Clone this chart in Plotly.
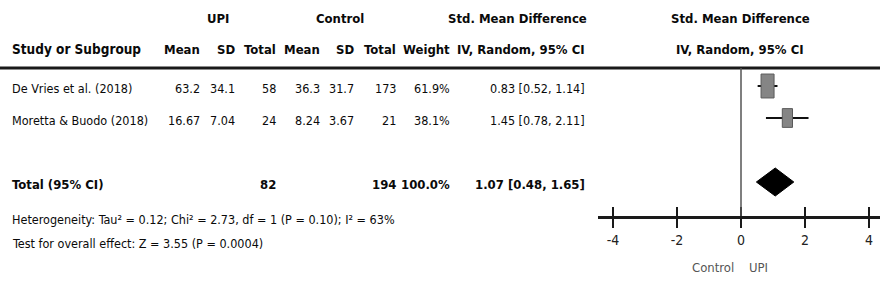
import plotly.graph_objects as go
import math

# ---------------- data ----------------
studies = ["De Vries et al. (2018)", "Moretta & Buodo (2018)"]
upi_mean = ["63.2", "16.67"]
upi_sd = ["34.1", "7.04"]
upi_n = [58, 24]
ctl_mean = ["36.3", "8.24"]
ctl_sd = ["31.7", "3.67"]
ctl_n = [173, 21]
weights = [61.9, 38.1]
smd = [0.83, 1.45]
ci_lo = [0.52, 0.78]
ci_hi = [1.14, 2.11]

total_label = "Total (95% CI)"
total_upi_n = 82
total_ctl_n = 194
total_weight = 100.0
total_smd = 1.07
total_lo = 0.48
total_hi = 1.65

het_text = "Heterogeneity: Tau² = 0.12; Chi² = 2.73, df = 1 (P = 0.10); I² = 63%"
test_text = "Test for overall effect: Z = 3.55 (P = 0.0004)"

tick_vals = [-4, -2, 0, 2, 4]
tick_text = ["-4", "-2", "0", "2", "4"]
favours_left = "Control"
favours_right = "UPI"

# ---------------- layout constants (pixels) ----------------
W, H = 880, 298
FONT = "DejaVu Sans Condensed, Liberation Sans Narrow, Arial Narrow, sans-serif"
FS = 12.5
FSB = 13
TXT = "#0a0a0a"
row_y = [88, 120]
box_y = [86, 118]
total_y = 184
het_y = 219
test_y = 243
hdr1_y = 18
hdr2_y = 49
rule_y = 68
axis_px = 216
zero_px = 741.0
px_per_unit = 32.0
plot_left_px = 598
col_right = [202, 237, 278, 322, 356, 398, 452, 587]

x_lo = (plot_left_px - zero_px) / px_per_unit
x_hi = (W - zero_px) / px_per_unit

fig = go.Figure()

# study CI lines and weight boxes
for i in range(len(studies)):
    yc = box_y[i]
    fig.add_trace(go.Scatter(x=[ci_lo[i], ci_hi[i]], y=[yc, yc], mode="lines",
                             line=dict(color="#111111", width=2),
                             xaxis="x", yaxis="y", showlegend=False, hoverinfo="skip"))
    side = 13.0 * math.sqrt(weights[i] / weights[0])
    hw = side / 2 / px_per_unit
    hh = side * 0.92
    fig.add_trace(go.Scatter(
        x=[smd[i] - hw, smd[i] + hw, smd[i] + hw, smd[i] - hw, smd[i] - hw],
        y=[yc - hh, yc - hh, yc + hh, yc + hh, yc - hh],
        mode="lines", fill="toself", fillcolor="#858585",
        line=dict(color="#5a5a5a", width=1),
        xaxis="x", yaxis="y", showlegend=False, hoverinfo="skip"))

# total diamond
dh = 14
fig.add_trace(go.Scatter(
    x=[total_lo, total_smd, total_hi, total_smd, total_lo],
    y=[total_y - 2, total_y - 2 - dh, total_y - 2, total_y - 2 + dh, total_y - 2],
    mode="lines", fill="toself", fillcolor="#000000",
    line=dict(color="#000000", width=1),
    xaxis="x", yaxis="y", showlegend=False, hoverinfo="skip"))

# invisible traces to register the helper axes
fig.add_trace(go.Scatter(x=[0], y=[0], mode="markers", marker=dict(opacity=0),
                         xaxis="x2", yaxis="y2", showlegend=False, hoverinfo="skip"))
fig.add_trace(go.Scatter(x=[0], y=[axis_px], mode="markers", marker=dict(opacity=0),
                         xaxis="x3", yaxis="y", showlegend=False, hoverinfo="skip"))

ann = []


def txt(x, y, s, anchor="right", bold=False, color=TXT, size=None):
    if size is None:
        size = FSB if bold else FS
    ann.append(dict(x=x, y=y, xref="x2", yref="y2", text=("<b>%s</b>" % s) if bold else s,
                    showarrow=False, xanchor=anchor, yanchor="middle",
                    font=dict(family=FONT, size=size, color=color)))


# headers
txt(218, hdr1_y, "UPI", "center", True)
txt(340, hdr1_y, "Control", "center", True)
txt(517, hdr1_y, "Std. Mean Difference", "center", True)
txt(740, hdr1_y, "Std. Mean Difference", "center", True)
txt(10, hdr2_y, "Study or Subgroup", "left", True, size=13.5)
for xr, s in zip(col_right, ["Mean", "SD", "Total", "Mean", "SD", "Total", "Weight",
                             "IV, Random, 95% CI"]):
    txt(xr, hdr2_y, s, "right", True)
txt(740, hdr2_y, "IV, Random, 95% CI", "center", True)

# study rows
for i in range(len(studies)):
    y = row_y[i]
    txt(10, y, studies[i], "left")
    vals = [upi_mean[i], upi_sd[i], str(upi_n[i]), ctl_mean[i], ctl_sd[i], str(ctl_n[i]),
            "%.1f%%" % weights[i], "%.2f [%.2f, %.2f]" % (smd[i], ci_lo[i], ci_hi[i])]
    for xr, s in zip(col_right, vals):
        txt(xr, y, s, "right")

# total row
txt(10, total_y, total_label, "left", True)
txt(col_right[2], total_y, str(total_upi_n), "right", True)
txt(col_right[5], total_y, str(total_ctl_n), "right", True)
txt(col_right[6], total_y, "%.1f%%" % total_weight, "right", True)
txt(col_right[7], total_y, "%.2f [%.2f, %.2f]" % (total_smd, total_lo, total_hi), "right", True)

txt(10, het_y, het_text, "left")
txt(10, test_y, test_text, "left")

# favours labels
txt(736, 267, favours_left, "right", False, "#555555", 13)
txt(747, 267, favours_right, "left", False, "#555555", 13)

shapes = [
    dict(type="line", xref="x2", yref="y2", x0=0, x1=W, y0=rule_y, y1=rule_y,
         line=dict(color="#1a1a1a", width=3)),
    dict(type="line", xref="x", yref="y", x0=0, x1=0, y0=rule_y, y1=axis_px,
         line=dict(color="#555555", width=1.5)),
]

dom_x = [plot_left_px / W, 1]
dom_y = [(H - axis_px) / H, 1]

fig.update_layout(
    width=W, height=H, margin=dict(l=0, r=0, t=0, b=0),
    paper_bgcolor="white", plot_bgcolor="rgba(0,0,0,0)",
    showlegend=False, hovermode=False,
    annotations=ann, shapes=shapes,
    xaxis=dict(domain=dom_x, range=[x_lo, x_hi], anchor="y",
               showline=True, linecolor="#1a1a1a", linewidth=2.5,
               ticks="outside", ticklen=9, tickwidth=1.5, tickcolor="#1a1a1a",
               tickvals=tick_vals, ticktext=tick_text,
               tickfont=dict(family=FONT, size=14, color="#222222"),
               showgrid=False, zeroline=False, fixedrange=True),
    xaxis3=dict(range=[x_lo, x_hi], anchor="y", overlaying="x",
                ticks="inside", ticklen=9, tickwidth=1.5, tickcolor="#1a1a1a",
                tickvals=tick_vals, showticklabels=False, showline=False,
                showgrid=False, zeroline=False),
    yaxis=dict(domain=dom_y, range=[axis_px, 0], visible=False, anchor="x",
               showgrid=False, zeroline=False),
    xaxis2=dict(domain=[0, 1], range=[0, W], visible=False, anchor="y2"),
    yaxis2=dict(domain=[0, 1], range=[H, 0], visible=False, anchor="x2"),
)

fig.write_html("out.html", config={"displayModeBar": False},
               post_script="document.body.style.margin='0';document.body.style.padding='0';")
